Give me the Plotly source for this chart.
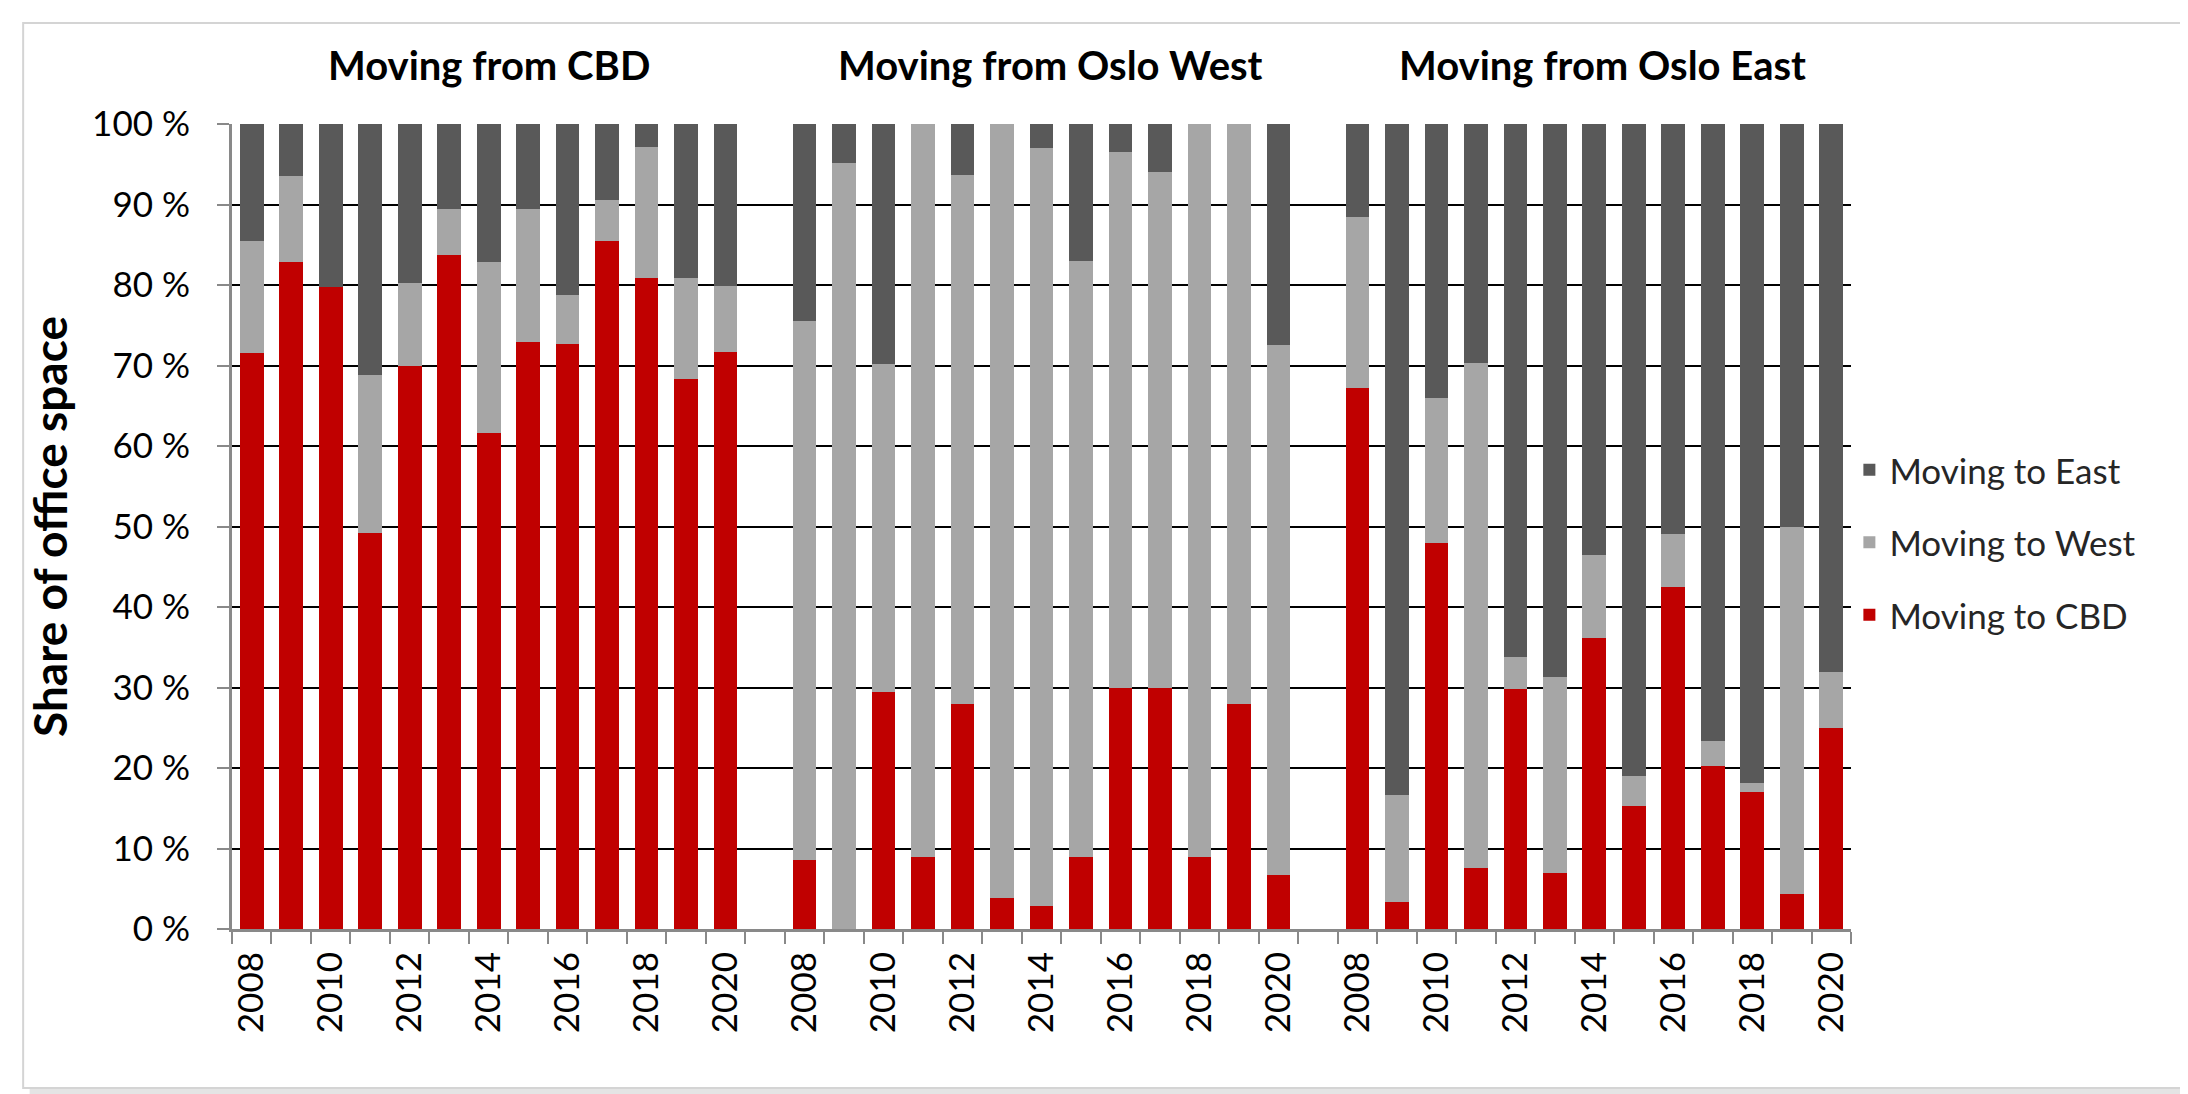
import plotly.graph_objects as go

years = list(range(2008, 2021))
groups = ["CBD", "Oslo West", "Oslo East"]
group_titles = ["Moving from CBD", "Moving from Oslo West", "Moving from Oslo East"]

# share (%) moving to CBD / West / East, per origin group, 2008..2020
from_cbd_to_cbd = [71.5, 82.8, 79.7, 49.2, 70.0, 83.7, 61.6, 72.9, 72.7, 85.5, 80.9, 68.3, 71.7]
from_cbd_to_west = [14.0, 10.7, 0.0, 19.6, 10.2, 5.8, 21.2, 16.6, 6.1, 5.0, 16.3, 12.6, 8.2]
from_cbd_to_east = [14.5, 6.5, 20.3, 31.2, 19.8, 10.5, 17.2, 10.5, 21.2, 9.5, 2.8, 19.1, 20.1]

from_west_to_cbd = [8.6, 0.0, 29.4, 9.0, 28.0, 3.8, 2.9, 9.0, 30.0, 30.0, 9.0, 28.0, 6.7]
from_west_to_west = [66.9, 95.2, 40.8, 91.0, 65.7, 96.2, 94.1, 74.0, 66.5, 64.0, 91.0, 72.0, 65.9]
from_west_to_east = [24.5, 4.8, 29.8, 0.0, 6.3, 0.0, 3.0, 17.0, 3.5, 6.0, 0.0, 0.0, 27.4]

from_east_to_cbd = [67.2, 3.3, 48.0, 7.6, 29.8, 7.0, 36.2, 15.3, 42.5, 20.3, 17.0, 4.4, 25.0]
from_east_to_west = [21.3, 13.3, 18.0, 62.7, 4.0, 24.3, 10.2, 3.7, 6.6, 3.0, 1.1, 45.5, 6.9]
from_east_to_east = [11.5, 83.4, 34.0, 29.7, 66.2, 68.7, 53.6, 81.0, 50.9, 76.7, 81.9, 50.1, 68.1]

series_names = ["Moving to CBD", "Moving to West", "Moving to East"]
series_colors = ["#C00000", "#A6A6A6", "#595959"]
series_values = [
    [from_cbd_to_cbd, from_west_to_cbd, from_east_to_cbd],
    [from_cbd_to_west, from_west_to_west, from_east_to_west],
    [from_cbd_to_east, from_west_to_east, from_east_to_east],
]

# build category axis: 13 years per group with an empty slot between groups
x_cats = []
tick_text = []
for gi, g in enumerate(groups):
    for y in years:
        x_cats.append(f"{g} {y}")
        tick_text.append(str(y) if y % 2 == 0 else "")
    if gi < len(groups) - 1:
        x_cats.append(" " * (gi + 1))
        tick_text.append("")

FONT = "Lato, 'Open Sans', sans-serif"

fig = go.Figure()
for si, name in enumerate(series_names):
    xs, ys = [], []
    for gi, g in enumerate(groups):
        for yi, y in enumerate(years):
            xs.append(f"{g} {y}")
            ys.append(series_values[si][gi][yi])
        if gi < len(groups) - 1:
            xs.append(" " * (gi + 1))
            ys.append(None)
    fig.add_trace(go.Bar(
        x=xs, y=ys, name=name, marker_color=series_colors[si],
        marker_line_width=0, legendgroup=name,
        legendrank=len(series_names) - si,
    ))

# outer frame with soft shadow
fig.add_shape(type="rect", xref="paper", yref="paper",
              x0=-0.125, x1=1.209, y0=-0.205, y1=1.118,
              fillcolor="#e4e4e4", line_width=0, layer="below")
fig.add_shape(type="rect", xref="paper", yref="paper",
              x0=-0.129, x1=1.205, y0=-0.1975, y1=1.1255,
              fillcolor="white", line=dict(color="#d4d4d4", width=2), layer="below")

title_shifts = [0, 9, 8]
for gi, t in enumerate(group_titles):
    fig.add_annotation(
        x=f"{groups[gi]} 2014", xref="x", y=1.073, yref="paper",
        text=f"<b>{t}</b>", showarrow=False, xanchor="center", yanchor="middle",
        xshift=title_shifts[gi],
        font=dict(family=FONT, size=40, color="black"),
    )

fig.update_layout(
    width=2188, height=1094,
    margin=dict(l=224, r=345, t=116, b=173),
    paper_bgcolor="white", plot_bgcolor="rgba(0,0,0,0)",
    barmode="stack", bargap=0.4,
    font=dict(family=FONT, size=35, color="black"),
    legend=dict(
        x=0.999, xanchor="left", y=0.48, yanchor="middle",
        traceorder="grouped", tracegroupgap=24,
        font=dict(family=FONT, size=35, color="#262626"),
        bgcolor="rgba(0,0,0,0)",
    ),
    showlegend=True,
)

fig.update_xaxes(
    type="category", categoryorder="array", categoryarray=x_cats,
    tickmode="array", tickvals=x_cats, ticktext=tick_text,
    tickangle=-90, tickson="boundaries", ticks="outside", ticklen=12,
    tickcolor="#898989", tickwidth=2,
    showline=True, linecolor="#898989", linewidth=3,
    showgrid=False, zeroline=False, ticklabelstandoff=6,
    tickfont=dict(family=FONT, size=35, color="black"),
)

fig.update_yaxes(
    range=[0, 100], tickmode="linear", tick0=0, dtick=10, ticksuffix=" %",
    ticks="outside", ticklen=12, tickcolor="#898989", tickwidth=2,
    showline=True, linecolor="#898989", linewidth=3,
    showgrid=True, gridcolor="black", gridwidth=2, zeroline=False,
    ticklabelstandoff=20,
    tickfont=dict(family=FONT, size=35, color="black"),
    title=dict(text="<b>Share of office space</b>", standoff=10,
               font=dict(family=FONT, size=46, color="black")),
)

fig.write_html("out.html")
